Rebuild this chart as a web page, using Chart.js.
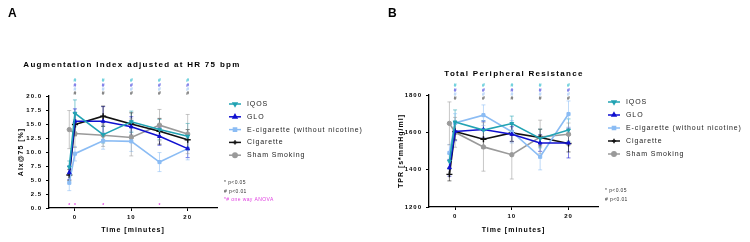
<!DOCTYPE html>
<html>
<head>
<meta charset="utf-8">
<script src="https://cdn.jsdelivr.net/npm/chart.js@4/dist/chart.umd.min.js"></script>
<style>
  html, body { margin: 0; padding: 0; background: #fff; }
  #wrapA { position: absolute; left: 0; top: 0; width: 380px; height: 242px; }
  #wrapB { position: absolute; left: 380px; top: 0; width: 370px; height: 242px; }
</style>
</head>
<body>
<div id="wrapA"><canvas id="chartA"></canvas></div>
<div id="wrapB"><canvas id="chartB"></canvas></div>
<script>
// ---- data ----
const timePoints = [-1, 0, 5, 10, 15, 20];
const xTicks = [0, 10, 20];
const seriesLabels = ['IQOS', 'GLO', 'E-cigarette (without nicotine)', 'Cigarette', 'Sham Smoking'];

// Augmentation index (AIx@75, %) mean / error
const iqosAix = [7.3, 16.9, 13.1, 15.4, 14.0, 12.8];
const gloAix = [6.3, 15.5, 15.5, 14.5, 12.8, 10.6];
const ecigAix = [4.5, 9.7, 12.0, 11.9, 8.2, 10.6];
const cigAix = [5.9, 14.9, 16.4, 15.0, 13.7, 12.2];
const shamAix = [14.0, 13.3, 13.0, 12.6, 14.8, 13.2];
const iqosAixErr = [1.1, 2.4, 1.5, 1.9, 1.8, 2.3];
const gloAixErr = [1.2, 2.2, 2.6, 1.8, 1.6, 1.6];
const ecigAixErr = [1.4, 1.3, 1.5, 1.8, 1.7, 2.0];
const cigAixErr = [1.0, 2.0, 1.8, 2.0, 2.3, 1.8];
const shamAixErr = [3.4, 2.5, 2.0, 3.3, 2.8, 3.5];
const aixTicks = [0, 2.5, 5, 7.5, 10, 12.5, 15, 17.5, 20];

// Total peripheral resistance (s*mmHg/ml) mean / error
const iqosTpr = [1445, 1655, 1612, 1647, 1567, 1612];
const gloTpr = [1410, 1605, 1615, 1590, 1543, 1543];
const ecigTpr = [1490, 1650, 1692, 1603, 1469, 1698];
const cigTpr = [1375, 1605, 1563, 1597, 1572, 1540];
const shamTpr = [1648, 1600, 1522, 1480, 1575, 1590];
const iqosTprErr = [40, 65, 50, 40, 50, 60];
const gloTprErr = [45, 50, 45, 40, 45, 80];
const ecigTprErr = [45, 50, 55, 60, 70, 70];
const cigTprErr = [35, 45, 50, 45, 45, 45];
const shamTprErr = [115, 80, 130, 130, 90, 60];
const tprTicks = [1200, 1400, 1600, 1800];

// significance marks above the plot (one stack per time point)
const sigTimes = [0, 5, 10, 15, 20];
const sigSymbols = ['#', '#', '#', '#'];
const anovaTimesA = [-1, 0, 5, 15];
const notesA = ['* p<0.05', '# p<0.01', '*# one way ANOVA'];
const notesB = ['* p<0.05', '# p<0.01'];

// ---- styles ----
const FONT = '"Liberation Sans", Arial, sans-serif';
const seriesColors = ['#22a3b3', '#1010d0', '#8bbcf4', '#111111', '#9a9a9a'];
const seriesPoints = ['triangle', 'triangle', 'rect', 'cross', 'circle'];
const seriesRotation = [180, 0, 0, 0, 0];
const sigColors = ['#3cc0d0', '#5050e0', '#a8ccf6', '#555555'];
const ANOVA_COLOR = '#e040e0';

const spacingPlugin = {
    id: 'spacing',
    beforeDraw: (chart) => { chart.ctx.letterSpacing = '1px'; }
};

const errorBarPlugin = {
    id: 'errorBars',
    beforeDatasetsDraw: (chart) => {
        const ctx = chart.ctx;
        const yScale = chart.scales.y;
        chart.data.datasets.forEach((ds, i) => {
            const meta = chart.getDatasetMeta(i);
            ctx.save();
            ctx.strokeStyle = ds.borderColor;
            ctx.globalAlpha = 0.7;
            ctx.lineWidth = 0.8;
            meta.data.forEach((pt, j) => {
                const v = ds.data[j].y;
                const e = ds.errors[j];
                const yTop = yScale.getPixelForValue(v + e);
                const yBot = yScale.getPixelForValue(v - e);
                ctx.beginPath();
                ctx.moveTo(pt.x, yTop); ctx.lineTo(pt.x, yBot);
                ctx.moveTo(pt.x - 2, yTop); ctx.lineTo(pt.x + 2, yTop);
                ctx.moveTo(pt.x - 2, yBot); ctx.lineTo(pt.x + 2, yBot);
                ctx.stroke();
            });
            ctx.restore();
        });
    }
};

const decorPlugin = {
    id: 'decor',
    afterDraw: (chart, args, opts) => {
        const ctx = chart.ctx;
        const area = chart.chartArea;
        const xScale = chart.scales.x;
        ctx.save();
        ctx.letterSpacing = '1px';
        ctx.fillStyle = '#000';

        // panel letter
        ctx.font = `bold 12px ${FONT}`;
        ctx.textBaseline = 'top';
        ctx.textAlign = 'left';
        ctx.fillText(opts.letter, 8, 8);

        // title
        ctx.letterSpacing = '1.3px';
        ctx.font = `bold 8px ${FONT}`;
        ctx.textAlign = 'center';
        ctx.textBaseline = 'middle';
        ctx.fillText(opts.title, opts.titleX, opts.titleY);

        // significance stacks
        ctx.font = `bold 5px ${FONT}`;
        ctx.letterSpacing = '0px';
        sigTimes.forEach((t) => {
            const x = xScale.getPixelForValue(t);
            sigSymbols.forEach((s, k) => {
                ctx.fillStyle = sigColors[k];
                ctx.fillText(s, x, area.top + opts.sigOffsets[k]);
            });
        });
        if (opts.anova) {
            ctx.fillStyle = ANOVA_COLOR;
            opts.anova.forEach((t) => {
                ctx.fillText('*', xScale.getPixelForValue(t), area.bottom - 2);
            });
        }

        // legend
        ctx.letterSpacing = '0.9px';
        ctx.font = `7px ${FONT}`;
        ctx.textAlign = 'left';
        chart.data.datasets.forEach((ds, i) => {
            const y = opts.legendTop + i * opts.legendGap;
            ctx.strokeStyle = ds.borderColor;
            ctx.fillStyle = ds.borderColor;
            ctx.lineWidth = 1.5;
            ctx.beginPath();
            ctx.moveTo(opts.legendX - 6, y);
            ctx.lineTo(opts.legendX + 6, y);
            ctx.stroke();
            Chart.helpers.drawPoint(ctx, {
                pointStyle: ds.pointStyle,
                rotation: ds.pointRotation || 0,
                radius: 2.2,
                borderWidth: 1
            }, opts.legendX, y);
            ctx.fillStyle = '#222';
            ctx.fillText(ds.label, opts.legendX + 12, y);
        });

        // notes
        ctx.font = `5px ${FONT}`;
        ctx.letterSpacing = '0.4px';
        opts.notes.forEach((n, i) => {
            ctx.fillStyle = (i === 2) ? ANOVA_COLOR : '#333';
            ctx.fillText(n, opts.notesX, opts.notesY + i * 8.5);
        });
        ctx.restore();
    }
};

const makeDatasets = (values, errors) => values.map((vals, i) => ({
    label: seriesLabels[i],
    data: vals.map((v, j) => ({ x: timePoints[j], y: v })),
    errors: errors[i],
    borderColor: seriesColors[i],
    backgroundColor: seriesColors[i],
    pointStyle: seriesPoints[i],
    pointRotation: seriesRotation[i],
    pointRadius: seriesPoints[i] === 'cross' ? 3 : 2.2,
    pointBorderWidth: seriesPoints[i] === 'cross' ? 1.4 : 1,
    borderWidth: 1.6,
    tension: 0
}));

const makePanel = (canvasId, p) => {
    const canvas = document.getElementById(canvasId);
    return new Chart(canvas, {
        type: 'line',
        data: { datasets: makeDatasets(p.values, p.errors) },
        options: {
            responsive: true,
            maintainAspectRatio: false,
            animation: false,
            events: [],
            layout: {
                padding: { left: 0, top: p.top, right: p.width - p.right, bottom: 0 }
            },
            scales: {
                x: {
                    type: 'linear',
                    min: -4.6,
                    max: 25.2,
                    afterBuildTicks: (scale) => { scale.ticks = xTicks.map((v) => ({ value: v })); },
                    afterFit: (scale) => { scale.height = 242 - p.bottom; },
                    grid: { drawOnChartArea: false, tickLength: 3, color: '#000', lineWidth: 1 },
                    border: { color: '#000', width: 1.3 },
                    ticks: { color: '#000', padding: 3, font: { family: FONT, size: 6, weight: 'bold' } },
                    title: {
                        display: true,
                        text: 'Time [minutes]',
                        color: '#000',
                        padding: { top: 0, bottom: 8 },
                        font: { family: FONT, size: 7, weight: 'bold' }
                    }
                },
                y: {
                    type: 'linear',
                    min: p.yTicks[0],
                    max: p.yTicks[p.yTicks.length - 1],
                    afterBuildTicks: (scale) => { scale.ticks = p.yTicks.map((v) => ({ value: v })); },
                    afterFit: (scale) => { scale.width = p.left; },
                    grid: { drawOnChartArea: false, tickLength: 3, color: '#000', lineWidth: 1 },
                    border: { color: '#000', width: 1.3 },
                    ticks: {
                        color: '#000',
                        padding: 4,
                        font: { family: FONT, size: 6, weight: 'bold' },
                        callback: p.tickFormat
                    },
                    title: {
                        display: true,
                        text: p.yTitle,
                        color: '#000',
                        padding: { top: 17, bottom: 0 },
                        font: { family: FONT, size: 7, weight: 'bold' }
                    }
                }
            },
            plugins: {
                legend: { display: false },
                tooltip: { enabled: false },
                decor: p.decor
            }
        },
        plugins: [spacingPlugin, errorBarPlugin, decorPlugin]
    });
};

makePanel('chartA', {
    width: 380, left: 49, right: 217, top: 96, bottom: 208,
    values: [iqosAix, gloAix, ecigAix, cigAix, shamAix],
    errors: [iqosAixErr, gloAixErr, ecigAixErr, cigAixErr, shamAixErr],
    yTicks: aixTicks,
    tickFormat: (v) => v.toFixed(1),
    yTitle: 'AIx@75 [%]',
    decor: {
        letter: 'A',
        title: 'Augmentation Index adjusted at HR 75 bpm',
        titleX: 132, titleY: 65,
        sigOffsets: [-15, -10, -6.5, -2],
        anova: anovaTimesA,
        legendX: 235, legendTop: 104, legendGap: 12.8,
        notes: notesA, notesX: 224, notesY: 183
    }
});

makePanel('chartB', {
    width: 370, left: 49, right: 218, top: 95, bottom: 207,
    values: [iqosTpr, gloTpr, ecigTpr, cigTpr, shamTpr],
    errors: [iqosTprErr, gloTprErr, ecigTprErr, cigTprErr, shamTprErr],
    yTicks: tprTicks,
    tickFormat: (v) => String(v),
    yTitle: 'TPR [s*mmHg/ml]',
    decor: {
        letter: 'B',
        title: 'Total Peripheral Resistance',
        titleX: 134, titleY: 74,
        sigOffsets: [-9, -4.5, -0.5, 3.5],
        anova: null,
        legendX: 234, legendTop: 102, legendGap: 13,
        notes: notesB, notesX: 225, notesY: 191
    }
});
</script>
</body>
</html>
